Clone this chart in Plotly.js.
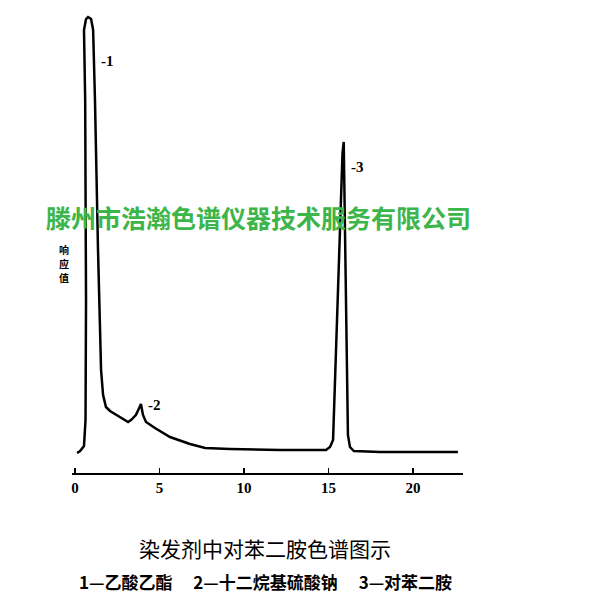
<!DOCTYPE html>
<html>
<head>
<meta charset="utf-8">
<script src="https://cdn.plot.ly/plotly-3.0.1.min.js"></script>
<style>html,body{margin:0;padding:0;background:#fff;}#chart{width:600px;height:595px;}</style>
</head>
<body>
<div id="chart"></div>
<script>
// Retention time (min) and detector response (arbitrary units)
const retentionTime = [0.12, 0.30, 0.53, 0.62, 0.65, 0.60, 0.53, 0.65, 0.77, 0.95, 1.07, 1.18, 1.36, 1.54, 1.66, 1.83, 2.07, 2.66, 3.14, 3.31, 3.60, 3.85, 3.90, 4.02, 4.20, 4.73, 5.62, 6.80, 7.70, 9.17, 12.10, 14.85, 15.09, 15.27, 15.56, 15.83, 15.90, 16.04, 16.15, 16.27, 16.50, 18.05, 22.66];
const response      = [20, 22, 27, 53, 173, 373, 443, 454, 456, 454, 443, 373, 223, 103, 78, 66, 62, 56, 51, 53, 58, 67, 69, 58, 51, 45, 36, 29, 25, 24, 23, 23, 26, 33, 183, 320, 331, 173, 38, 26, 22, 21, 21];

const tickValues = [0, 5, 10, 15, 20];
const tickLabels = ['0', '5', '10', '15', '20'];

const peakNames = ['-1', '-2', '-3'];
const peakLabelX = [1.95, 4.73, 16.69];
const peakLabelY = [412, 68, 306];

const chartTitle = '染发剂中对苯二胺色谱图示';
const legendText = '1—乙酸乙酯　 2—十二烷基硫酸钠　 3—对苯二胺';
const yLabelChars = ['响', '应', '值'];
const watermark = '滕州市浩瀚色谱仪器技术服务有限公司';

const trace = {
  x: retentionTime,
  y: response,
  type: 'scatter',
  mode: 'lines',
  line: {color: '#000', width: 2.5, shape: 'linear'},
  hoverinfo: 'skip'
};

const annotations = peakNames.map((t, i) => ({
  x: peakLabelX[i], y: peakLabelY[i], xref: 'x', yref: 'y',
  text: t, showarrow: false, xanchor: 'center', yanchor: 'middle',
  font: {family: 'Liberation Serif, serif', size: 15, color: '#000', weight: 'bold'}
}));

// vertical y-axis label, one character per line (pixel rows 249, 263, 277)
yLabelChars.forEach((c, i) => {
  annotations.push({
    x: -0.02, y: (473 - (249 + 14 * i)) / 463, xref: 'paper', yref: 'paper',
    text: c, showarrow: false, xanchor: 'center', yanchor: 'middle',
    font: {family: 'Noto Sans CJK SC', size: 10, color: '#000', weight: 'bold'}
  });
});

annotations.push({
  x: 0.477, y: 0.553, xref: 'paper', yref: 'paper', text: watermark, showarrow: false,
  xanchor: 'center', yanchor: 'middle',
  font: {family: 'Noto Sans CJK SC', size: 25, color: '#3cb54a', weight: 'bold'}
});
annotations.push({
  x: 0.494, y: -0.235, xref: 'paper', yref: 'paper', text: legendText, showarrow: false,
  xanchor: 'center', yanchor: 'middle',
  font: {family: 'Noto Sans CJK SC', size: 17, color: '#000', weight: 'bold'}
});

const layout = {
  width: 600, height: 595,
  paper_bgcolor: '#fff', plot_bgcolor: '#fff',
  margin: {l: 72, r: 137, t: 10, b: 122},
  showlegend: false,
  title: {
    text: chartTitle, x: 265/600, xanchor: 'center', y: 1 - 550/595, yanchor: 'middle',
    font: {family: 'Noto Sans CJK SC', size: 21, color: '#000'}
  },
  xaxis: {
    range: [-0.18, 22.96],
    showgrid: false, zeroline: false,
    showline: true, linecolor: '#000', linewidth: 2,
    ticks: 'inside', ticklen: 5, tickwidth: 1.5, tickcolor: '#000',
    tickvals: tickValues, ticktext: tickLabels,
    tickfont: {family: 'Liberation Serif, serif', size: 15, color: '#000', weight: 'bold'},
    fixedrange: true
  },
  yaxis: {
    range: [0, 463],
    visible: false, showgrid: false, zeroline: false, fixedrange: true
  },
  annotations: annotations
};

Plotly.newPlot('chart', [trace], layout, {displayModeBar: false, staticPlot: true});
</script>
</body>
</html>
